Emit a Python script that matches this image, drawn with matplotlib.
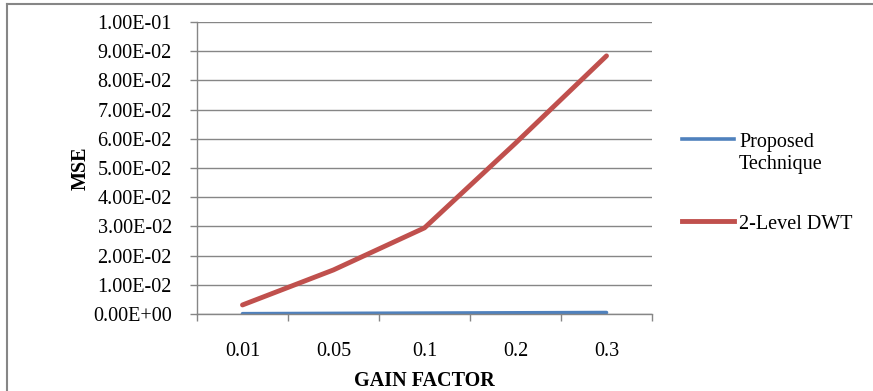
import matplotlib
matplotlib.use("Agg")
import matplotlib.pyplot as plt
from matplotlib.lines import Line2D

categories = ["0.01", "0.05", "0.1", "0.2", "0.3"]
proposed = [0.0001, 0.0002, 0.0003, 0.0004, 0.0005]
dwt2 = [0.0031, 0.0151, 0.0295, 0.0585, 0.0884]
yticks = [i * 0.01 for i in range(11)]
ytick_labels = ["0.00E+00", "1.00E-02", "2.00E-02", "3.00E-02", "4.00E-02",
                "5.00E-02", "6.00E-02", "7.00E-02", "8.00E-02", "9.00E-02", "1.00E-01"]
series_names = ["Proposed\nTechnique", "2-Level DWT"]

plt.rcParams['font.family'] = ['Liberation Serif', 'DejaVu Serif']

W, H = 873, 391
fig = plt.figure(figsize=(W / 100, H / 100), dpi=100)
fig.patch.set_facecolor('white')

L, R, T, B = 197, 652, 22, 314
ax = fig.add_axes([L / W, 1 - B / H, (R - L) / W, (B - T) / H])

FS = 14.5
x = list(range(len(categories)))
blue = '#4F81BD'
red = '#C0504D'
ax.plot(x, proposed, color=blue, lw=2.6, solid_capstyle='round')
ax.plot(x, dwt2, color=red, lw=3.5, solid_capstyle='round')

ax.set_xlim(-0.5, len(categories) - 0.5)
ax.set_ylim(0, 0.1)
ax.set_yticks(yticks)
ax.set_yticklabels(ytick_labels, fontsize=FS)
ax.set_xticks(x)
ax.set_xticklabels(categories, fontsize=FS)
ax.set_xticks([i - 0.5 for i in range(len(categories) + 1)], minor=True)
ax.tick_params(axis='x', which='major', length=0, pad=20)
ax.tick_params(axis='x', which='minor', length=5, color='#868686', width=1)
ax.tick_params(axis='y', length=5, color='#868686', width=1, pad=13)
ax.yaxis.grid(True, color='#868686', lw=1)
ax.set_axisbelow(True)
for s in ['top', 'right']:
    ax.spines[s].set_visible(False)
for s in ['left', 'bottom']:
    ax.spines[s].set_color('#868686')
    ax.spines[s].set_linewidth(1)

ax.set_ylabel('MSE', fontsize=FS, fontweight='bold', labelpad=2)
ax.set_xlabel('GAIN FACTOR', fontsize=FS, fontweight='bold', labelpad=7)

# legend drawn manually (handle aligned with first text line as in reference)
leg_y = [139, 221]
colors = [blue, red]
widths = [2.6, 3.5]
for yy, c, w, name in zip(leg_y, colors, widths, series_names):
    fig.add_artist(Line2D([682 / W, 734 / W], [1 - yy / H, 1 - yy / H],
                          transform=fig.transFigure, color=c, lw=w))
    fig.text(739 / W, 1 - (yy - 6) / H, name, fontsize=FS, va='top', ha='left',
             linespacing=1.25)

# outer frame (top and left edges only visible)
fig.add_artist(Line2D([6.5 / W, 1], [1 - 4 / H, 1 - 4 / H], transform=fig.transFigure,
                      color='#868686', lw=1.5))
fig.add_artist(Line2D([6.5 / W, 6.5 / W], [0, 1 - 4 / H], transform=fig.transFigure,
                      color='#868686', lw=1.5))

fig.savefig('out.png', dpi=100)
